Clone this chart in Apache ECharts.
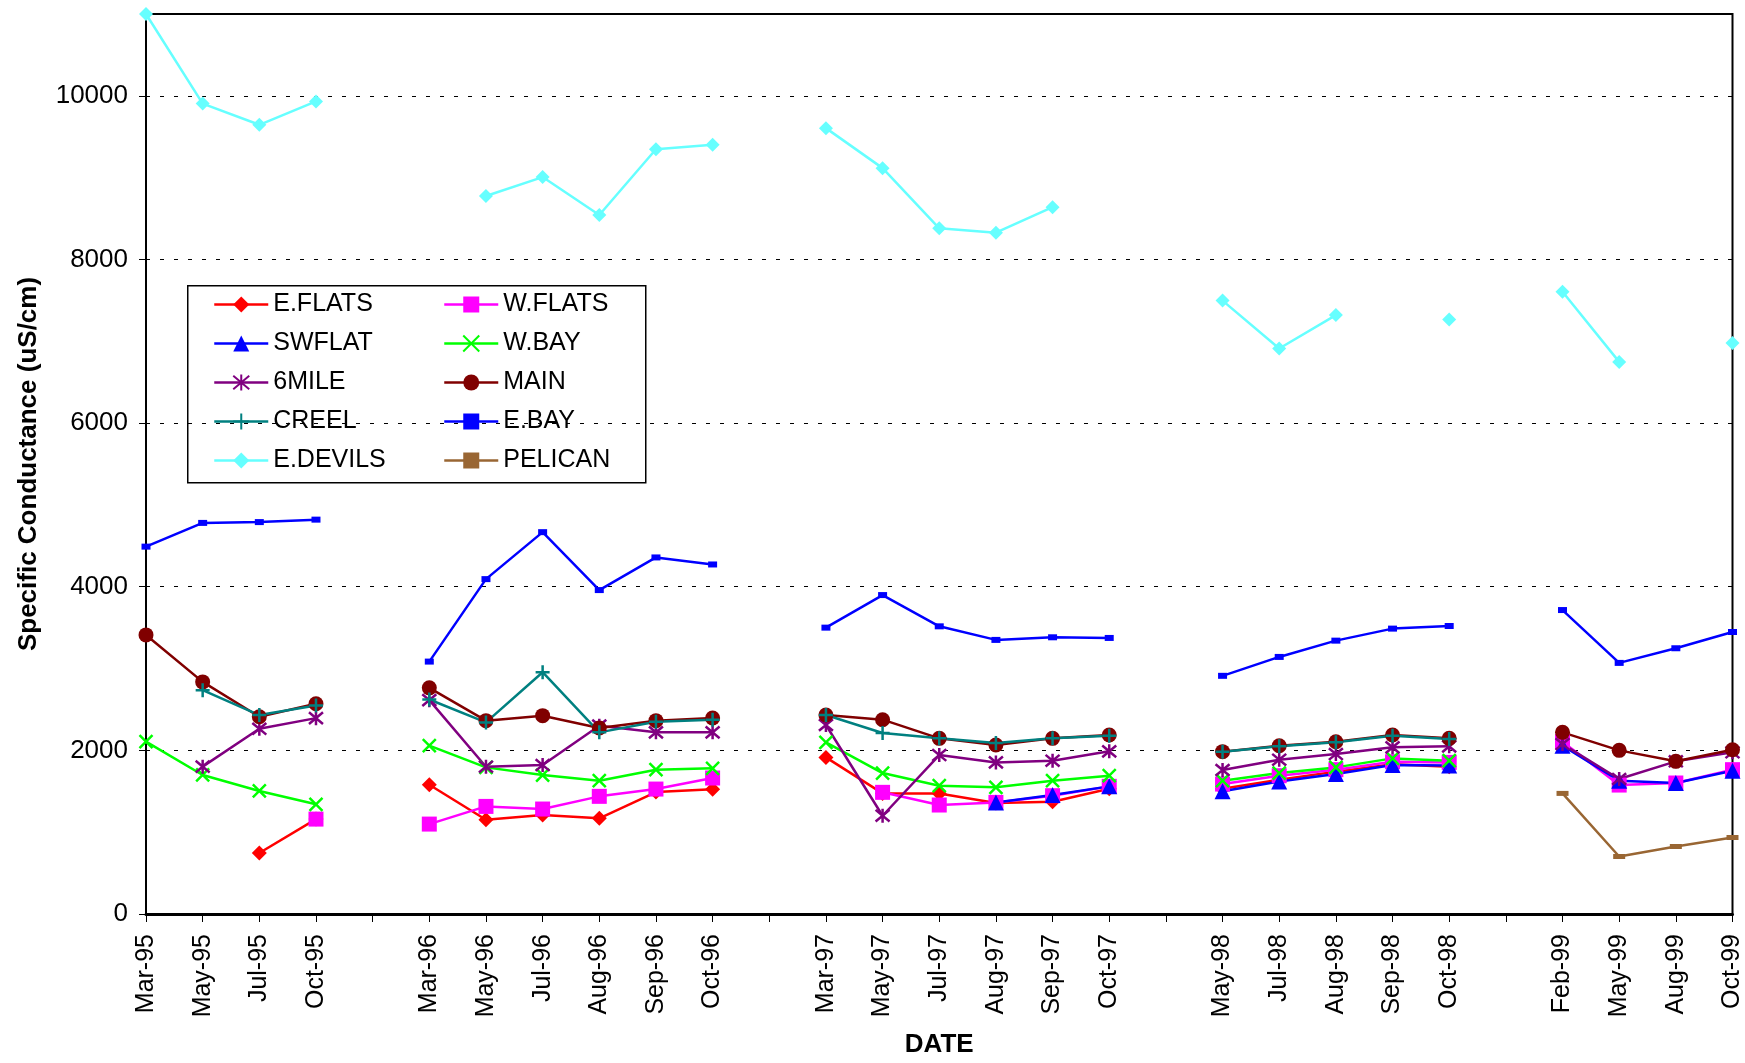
<!DOCTYPE html>
<html>
<head>
<meta charset="utf-8">
<script src="https://cdn.jsdelivr.net/npm/echarts@6/dist/echarts.min.js"></script>
<style>
html,body{margin:0;padding:0;background:#fff;}
#chart{width:1745px;height:1063px;}
</style>
</head>
<body>
<div id="chart"></div>
<script>
// ---- data ----
const categories = ['Mar-95','May-95','Jul-95','Oct-95','',
  'Mar-96','May-96','Jul-96','Aug-96','Sep-96','Oct-96','',
  'Mar-97','May-97','Jul-97','Aug-97','Sep-97','Oct-97','',
  'May-98','Jul-98','Aug-98','Sep-98','Oct-98','',
  'Feb-99','May-99','Aug-99','Oct-99'];
const _ = null;
const eFlats  = [_,_,745,1160,_, 1580,1152,1209,1169,1490,1525,_, 1914,1474,1474,1356,1372,1530,_, 1530,1640,1740,1830,1800,_, _,_,_,_];
const wFlats  = [_,_,_,1160,_, 1099,1315,1283,1438,1527,1662,_, _,1487,1332,1364,1446,1560,_, 1588,1690,1764,1861,1853,_, 2106,1576,1601,1764];
const swFlat  = [_,_,_,_,_, _,_,_,_,_,_,_, _,_,_,1364,1454,1560,_, 1500,1620,1710,1820,1815,_, 2057,1629,1601,1752];
const wBay    = [2106,1699,1504,1341,_, 2057,1792,1698,1629,1764,1780,_, 2098,1723,1568,1548,1629,1690,_, 1629,1723,1792,1902,1874,_, _,_,_,_];
const sixMile = [_,1801,2264,2394,_, 2614,1800,1821,2302,2220,2220,_, 2310,1201,1943,1853,1874,1988,_, 1760,1886,1955,2037,2049,_, 2077,1650,1866,1976];
const main    = [3411,2837,2411,2569,_, 2764,2363,2424,2273,2363,2395,_, 2432,2375,2147,2065,2147,2187,_, 1984,2057,2106,2187,2147,_, 2220,2000,1866,2008];
const creel   = [_,2736,2431,2549,_, 2622,2342,2955,2220,2350,2375,_, 2432,2212,2147,2090,2147,2179,_, 1984,2049,2098,2179,2139,_, _,_,_,_];
const eBay    = [4490,4780,4790,4820,_, 3085,4093,4667,3959,4358,4272,_, 3500,3898,3516,3350,3382,3374,_, 2911,3142,3341,3488,3520,_, 3715,3069,3248,3447];
const eDevils = [11000,9905,9646,9932,_, _,8776,9007,8544,9347,9401,_, 9605,9116,8381,8327,8639,_,_, 7497,6912,7320,_,7265,_, 7605,6748,_,6980];
const pelican = [_,_,_,_,_, _,_,_,_,_,_,_, _,_,_,_,_,_,_, _,_,_,_,_,_, 1474,703,825,935];
const yTicks = {min:0, max:11000, interval:2000};

// ---- chart ----
const FONT = 'Liberation Sans, Arial, sans-serif';
const X_PATH = 'path://M0,0L10,10M10,0L0,10';
const PLUS_PATH = 'path://M5,0L5,10M0,5L10,5';
const STAR_PATH = 'path://M0,0L10,10M10,0L0,10M5,-1L5,11';

function mk(name, data, color, symbol, size, stroked, width) {
  return {
    name, type:'line', data, connectNulls:false, showAllSymbol:true, showSymbol:true,
    symbol, symbolSize:size, animation:false,
    lineStyle:{color, width: width || 2.5},
    itemStyle: stroked ? {color:'rgba(0,0,0,0)', borderColor:color, borderWidth:2.5}
                       : {color, borderWidth:0},
    emphasis:{disabled:true}
  };
}
const series = [
  mk('E.FLATS', eFlats, '#FF0000', 'diamond', 15),
  mk('W.FLATS', wFlats, '#FF00FF', 'rect', 15),
  mk('SWFLAT', swFlat, '#0000FF', 'triangle', 16),
  mk('W.BAY', wBay, '#00FF00', X_PATH, 13, true),
  mk('6MILE', sixMile, '#800080', STAR_PATH, 14, true),
  mk('MAIN', main, '#800000', 'circle', 15),
  mk('CREEL', creel, '#008080', PLUS_PATH, 14, true),
  mk('E.BAY', eBay, '#0000FF', 'rect', [9,6]),
  mk('E.DEVILS', eDevils, '#66FFFF', 'diamond', 14),
  mk('PELICAN', pelican, '#996633', 'rect', [12,5])
];

const legendCommon = {
  orient:'vertical', itemWidth:54, itemHeight:20, itemGap:14,
  selectedMode:false,
  lineStyle:{width:2.5},
  textStyle:{fontFamily:FONT, fontSize:25, color:'#000', lineHeight:25},
  padding:0
};

const chart = echarts.init(document.getElementById('chart'), null, {renderer:'canvas'});
chart.setOption({
  backgroundColor:'#fff',
  animation:false,
  grid:{left:146, right:10, top:14, bottom:148, show:true, borderColor:'#000', borderWidth:2, containLabel:false},
  xAxis:{
    type:'category', data:categories, boundaryGap:false,
    name:'DATE', nameLocation:'middle', nameGap:118,
    nameTextStyle:{fontFamily:FONT, fontSize:26, fontWeight:'bold', color:'#000'},
    axisLine:{lineStyle:{color:'#000', width:3}},
    axisTick:{show:true, interval:0, length:8, lineStyle:{color:'#000', width:1}},
    axisLabel:{interval:0, rotate:90, fontFamily:FONT, fontSize:25, color:'#000', margin:20},
    splitLine:{show:false}
  },
  yAxis:{
    type:'value', min:yTicks.min, max:yTicks.max, interval:yTicks.interval,
    name:'Specific Conductance (uS/cm)', nameLocation:'middle', nameGap:104,
    nameTextStyle:{fontFamily:FONT, fontSize:26, fontWeight:'bold', color:'#000'},
    axisLine:{show:true, lineStyle:{color:'#000', width:2}},
    axisTick:{show:true, length:7, lineStyle:{color:'#000', width:1}},
    axisLabel:{fontFamily:FONT, fontSize:26, color:'#000', margin:18, showMaxLabel:false,
      formatter: v => String(v)},
    splitLine:{show:true, lineStyle:{color:'#000', width:1, type:[4,10]}}
  },
  legend:[
    Object.assign({}, legendCommon, {left:213, top:292,
      data:['E.FLATS','SWFLAT','6MILE','CREEL','E.DEVILS']}),
    Object.assign({}, legendCommon, {left:443, top:292,
      data:['W.FLATS','W.BAY','MAIN','E.BAY','PELICAN']})
  ],
  graphic:[{
    type:'rect', left:187, top:285, z:-1,
    shape:{width:458, height:197},
    style:{fill:'#fff', stroke:'#000', lineWidth:1.5}
  }],
  series
});
</script>
</body>
</html>
